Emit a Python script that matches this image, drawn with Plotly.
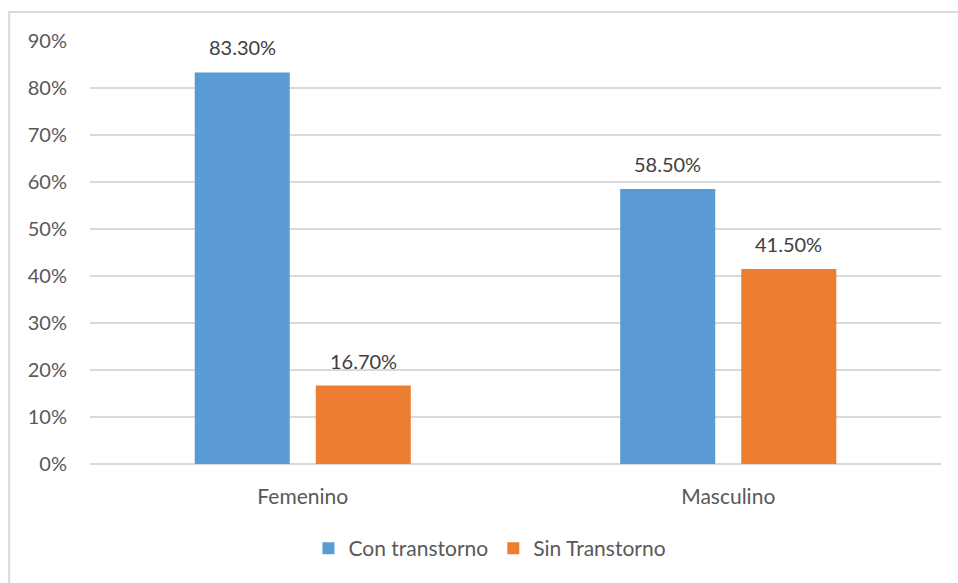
import plotly.graph_objects as go

categories = ["Femenino", "Masculino"]
con_transtorno = [83.3, 58.5]
sin_transtorno = [16.7, 41.5]
series_names = ["Con transtorno", "Sin Transtorno"]
y_ticks = [0, 10, 20, 30, 40, 50, 60, 70, 80, 90]

BLUE = "#5B9BD5"
ORANGE = "#ED7D31"
FONT = "Lato, 'Open Sans', sans-serif"

fig = go.Figure()
for name, vals, color in [(series_names[0], con_transtorno, BLUE),
                          (series_names[1], sin_transtorno, ORANGE)]:
    fig.add_trace(go.Bar(
        x=categories, y=vals, name=name,
        marker=dict(color=color, line=dict(width=0)),
    ))

# data labels above bars (offset to the grouped bar centres)
for vals, shift in [(con_transtorno, -60.5), (sin_transtorno, 60.5)]:
    for cat, v in zip(categories, vals):
        fig.add_annotation(
            x=cat, y=v, text=f"{v:.2f}%", showarrow=False,
            xshift=shift, yanchor="bottom", yshift=11,
            font=dict(family=FONT, size=20, color="#404040"),
        )

# chart-area border, like the Excel frame (right and bottom edges run off the page)
fig.add_shape(type="rect", xref="paper", yref="paper",
              x0=-0.095, x1=1.06, y0=-0.33, y1=1.0686,
              line=dict(color="#D9D9D9", width=2), layer="below")

fig.update_layout(
    width=958, height=583,
    margin=dict(l=90, r=17, t=41, b=119),
    barmode="group", bargap=0.431, bargroupgap=0.215,
    paper_bgcolor="white", plot_bgcolor="white",
    font=dict(family=FONT, size=20, color="#595959"),
    showlegend=True,
    legend=dict(orientation="h", x=0.47, xanchor="center", y=-0.2, yanchor="middle",
                font=dict(size=21, color="#595959"), itemwidth=30,
                traceorder="normal"),
    xaxis=dict(showgrid=False, showline=False, ticks="", tickfont=dict(size=21),
               ticklabelstandoff=18),
    yaxis=dict(range=[0, 90], tickvals=y_ticks,
               ticktext=[f"{t}%" for t in y_ticks],
               showgrid=True, gridcolor="#D9D9D9", gridwidth=2,
               zeroline=True, zerolinecolor="#D9D9D9", zerolinewidth=2,
               showline=False, ticks="", ticklabelstandoff=22,
               tickfont=dict(size=20)),
)

# drop the default body margin so the figure fills the window exactly
fig.write_html("out.html", config={"displayModeBar": False},
               post_script="document.body.style.margin='0';"
                           "document.body.style.overflow='hidden';")
